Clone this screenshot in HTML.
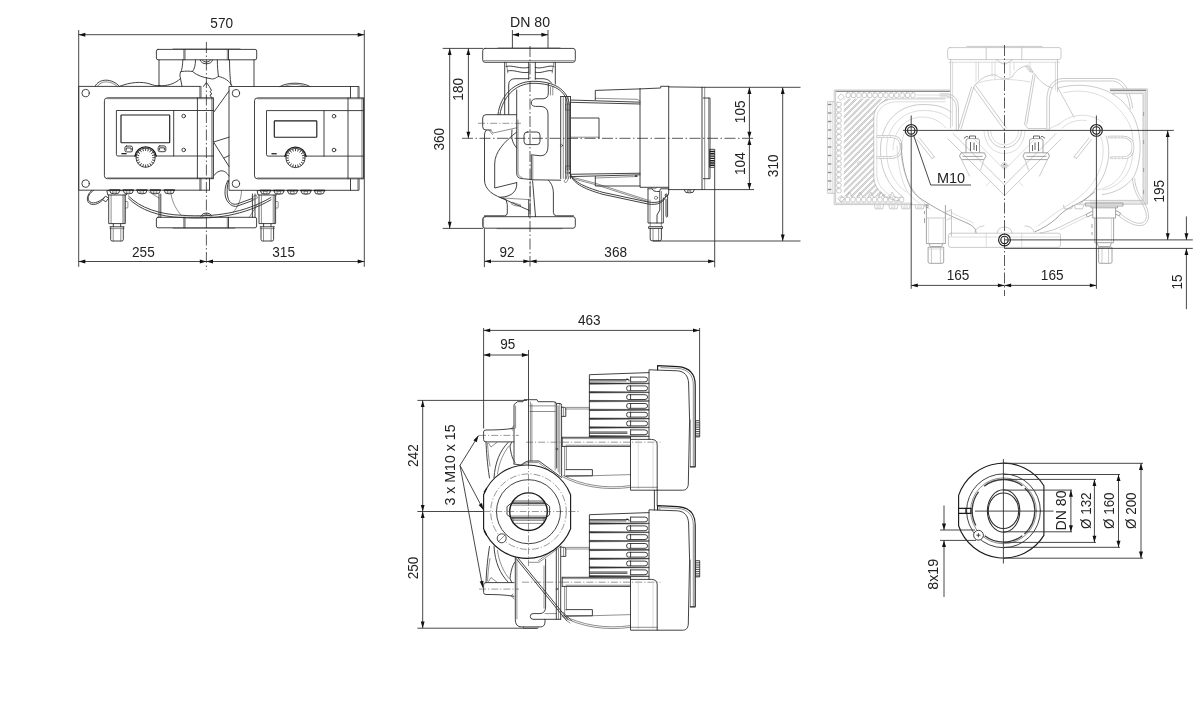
<!DOCTYPE html>
<html><head><meta charset="utf-8"><title>Dimensional drawing</title>
<style>
html,body{margin:0;padding:0;background:#fff;}
body{width:1200px;height:715px;overflow:hidden;font-family:"Liberation Sans",sans-serif;}
svg{display:block;will-change:transform;opacity:.999}
.o{fill:none;stroke:#2e2e2e;stroke-width:.9;stroke-linecap:round;stroke-linejoin:round}
.ow{fill:#fff;stroke:#2e2e2e;stroke-width:.9;stroke-linejoin:round}
.k{fill:none;stroke:#1a1a1a;stroke-width:1.4;stroke-linecap:round;stroke-linejoin:round}
.kw{fill:#fff;stroke:#1a1a1a;stroke-width:1.4}
.n{fill:none;stroke:#333;stroke-width:.55;stroke-linecap:round;stroke-linejoin:round}
.d{fill:none;stroke:#333;stroke-width:.9}
.c{fill:none;stroke:#222;stroke-width:.75;stroke-dasharray:11 2.5 1.5 2.5}
.cs{fill:none;stroke:#444;stroke-width:.55;stroke-dasharray:7 2 1.2 2}
.a{fill:#111;stroke:none}
.t{font-family:"Liberation Sans",sans-serif;font-size:14.6px;fill:#222}
.g{fill:none;stroke:#b4b4b4;stroke-width:.7;stroke-linecap:round;stroke-linejoin:round}
.g2{fill:none;stroke:#cfcfcf;stroke-width:.7;stroke-linecap:round;stroke-linejoin:round}
.gd{fill:none;stroke:#9a9a9a;stroke-width:.9}
.b{fill:#222;stroke:none}
.gv{fill:none;stroke:#8c8c8c;stroke-width:.8;stroke-linejoin:round}
.gv2{fill:none;stroke:#555;stroke-width:.9}
.k3{fill:none;stroke:#444;stroke-width:1.3}
.gk{fill:none;stroke:#8a8a8a;stroke-width:1.3}
.gh{fill:none;stroke:#c4c4c4;stroke-width:2.6;stroke-linecap:round}
.gt{fill:none;stroke:#fff;stroke-width:1.2;stroke-linecap:round}
.k2{fill:none;stroke:#3a3a3a;stroke-width:1.3}
.m{fill:none;stroke:#1c1c1c;stroke-width:1.15;stroke-linecap:round;stroke-linejoin:round}
.mw{fill:#fff;stroke:#1c1c1c;stroke-width:1.15;stroke-linejoin:round}
</style></head><body>
<svg width="1200" height="715" viewBox="0 0 1200 715">
<rect x="0" y="0" width="1200" height="715" fill="#fff"/>
<g id="v1">
<path class="o" d="M158,49.4 H255 Q256.7,49.4 256.7,51 V58 Q256.7,59.8 255,59.8 H158 Q156.4,59.8 156.4,58 V51 Q156.4,49.4 158,49.4 Z"/>
<line class="n" x1="173" y1="48.9" x2="240" y2="48.9"/>
<line class="o" x1="184" y1="49.4" x2="184" y2="59.8"/>
<line class="n" x1="185.2" y1="49.4" x2="185.2" y2="59.8"/>
<line class="o" x1="228.5" y1="49.4" x2="228.5" y2="59.8"/>
<line class="n" x1="227.3" y1="49.4" x2="227.3" y2="59.8"/>
<line class="o" x1="159" y1="59.8" x2="159" y2="86.4"/>
<line class="o" x1="254" y1="59.8" x2="254" y2="86.4"/>
<path class="o" d="M182.8,59.8 C182.6,66 182,70 180.5,72.5"/>
<path class="o" d="M229.5,59.8 C229.6,70 230,78 231,85"/>
<path class="o" d="M195.5,60 C195.5,65 194.5,69 192.5,71.5"/>
<path class="o" d="M217.3,60 C217.4,66 217.8,72 218.5,76.5"/>
<path class="o" d="M200.2,60 Q201,63.6 206.4,63.8 Q211.8,63.6 212.6,60"/>
<path class="o" d="M202.3,60 Q203,62 206.4,62.1 Q209.8,62 210.5,60"/>
<path class="o" d="M159,85.5 C166,86.5 175,84 180.5,78.5 C179.5,75 180,73 181,71.5 C186,71 190,71 192.5,71.5 C197,75.5 203,77.5 210,78.5 C214,80 216,77.5 218.5,76.5 C224,77.5 230,81 232,86"/>
<path class="o" d="M180.5,78.5 C181,81 181.5,84 182,86.4"/>
<path class="o" d="M229,91 L213.5,112.5"/>
<path class="o" d="M213.5,142 L229,137.2"/>
<path class="o" d="M213.5,142 L229,166.5"/>
<path class="o" d="M224,158 L229,155.6"/>
<path class="o" d="M213.5,176 C218,170 224,168 229,176"/>
<path class="n" d="M241.5,190.5 C241.5,199 238,207 233,212.6"/>
<line class="o" x1="252.4" y1="194" x2="252.4" y2="217.3"/>
<line class="o" x1="255" y1="194" x2="255" y2="217.3"/>
<path class="o" d="M203.5,86.4 L206.4,82.5 L209.3,86.4 L211.5,90.5 L210,91.5 L211.8,94 L210,95 L211.5,97.5"/>
<line class="o" x1="200" y1="86.4" x2="200" y2="97.7"/>
<line class="n" x1="201.2" y1="86.4" x2="201.2" y2="97.7"/>
<line class="o" x1="200" y1="178.4" x2="200" y2="190"/>
<line class="o" x1="209.5" y1="178.4" x2="209.5" y2="190"/>
<line class="n" x1="201.2" y1="178.4" x2="201.2" y2="190"/>
<path class="o" d="M158,217.3 H255 Q256.6,217.3 256.6,219 V226 Q256.6,227.8 255,227.8 H158 Q156.4,227.8 156.4,226 V219 Q156.4,217.3 158,217.3 Z"/>
<line class="n" x1="173" y1="228.3" x2="235" y2="228.3"/>
<line class="o" x1="184" y1="217.3" x2="184" y2="227.8"/>
<line class="n" x1="185.2" y1="217.3" x2="185.2" y2="227.8"/>
<line class="o" x1="228.5" y1="217.3" x2="228.5" y2="227.8"/>
<line class="n" x1="227.3" y1="217.3" x2="227.3" y2="227.8"/>
<path class="o" d="M200.8,216.3 A6,5.2 0 0 1 212,216.3"/>
<path class="n" d="M202.5,216.6 A4.2,3.4 0 0 1 210.3,216.6"/>
<line class="o" x1="159" y1="194" x2="159" y2="217.3"/>
<line class="o" x1="160.8" y1="194" x2="160.8" y2="217.3"/>
<path class="n" d="M149,192 L159,198"/>
<path class="o" d="M128.5,196 C140,208 160,214.5 182,215.3 C215,217.5 244,213 271,197.5"/>
<path class="o" d="M128.5,198.3 C140,210.3 160,216.8 182,217.60000000000002 C215,219.8 244,215.3 271,199.8"/>
<path class="n" d="M171,194 C172.5,203 176,209 181,215"/>
<path class="n" d="M249.5,217 L257,205"/>
<path class="o" d="M228.6,180.4 C227,186 226.5,193 228,198 C229.5,203.0 233,205 237,204 L253,198.2"/>
<path class="o" d="M227.94,180.4 C224.8,186 224.3,193 225.8,198 C228.18,204.1 233,207.2 237,206.2 L253,200.39999999999998"/>
<path class="n" d="M252.6,196.6 L256.4,195.2 L257.4,198 L253.6,199.6 Z"/>
<path class="o" d="M104.5,197.3 C99,202.6 91.5,205 88.8,200.6 C86.8,197 90.0,192.6 93.6,190.4"/>
<path class="o" d="M104.5,198.25 C99,204.5 91.5,206.9 88.03999999999999,201.73999999999998 C85.85,197 89.43,192.6 91.69999999999999,190.4"/>
<path class="ow" d="M102.6,199.6 L105.6,196.2 L108.7,198.2 L105.8,201.8 Z"/>
<path class="o" d="M95,86.4 C99,78 112,78 119.5,86.4"/>
<path class="n" d="M97.3,86.4 C101,80.3 111,80.3 117.3,86.4"/>
<path class="o" d="M119.5,86.4 C130,82 142,81.3 150,84 C153,85 156,86.3 159,85.5"/>
<path class="o" d="M280,86.5 C288,82 302,82 310,86.5"/>
<path class="n" d="M284,86.5 C291,83.8 299,83.8 306,86.5"/>
<path class="o" d="M108.7,195 V223.6 H125.30000000000001 V195"/>
<line class="n" x1="111.10000000000001" y1="195" x2="111.10000000000001" y2="223.6"/>
<line class="n" x1="122.9" y1="195" x2="122.9" y2="223.6"/>
<line class="n" x1="124.10000000000001" y1="195" x2="124.10000000000001" y2="223.6"/>
<path class="o" d="M107.2,190.6 H128.3 L126.30000000000001,195 H108.2 Z"/>
<path class="n" d="M125.30000000000001,201.5 H127.10000000000001 Q127.9,201.5 127.9,202.5 V207 Q127.9,208 127.10000000000001,208 H125.30000000000001"/>
<path class="o" d="M113.3,223.6 V226.8 M120.70000000000002,223.6 V226.8"/>
<path class="o" d="M109.9,226.8 H124.10000000000001"/>
<path class="o" d="M110.7,227 V239.5 Q110.7,241 112.2,241 H121.80000000000001 Q123.30000000000001,241 123.30000000000001,239.5 V227"/>
<line class="n" x1="109.9" y1="228.6" x2="124.10000000000001" y2="228.6"/>
<line class="n" x1="113.2" y1="229" x2="113.2" y2="241"/>
<line class="n" x1="120.80000000000001" y1="229" x2="120.80000000000001" y2="241"/>
<path class="o" d="M259,195 V223.6 H275.6 V195"/>
<line class="n" x1="261.4" y1="195" x2="261.4" y2="223.6"/>
<line class="n" x1="273.20000000000005" y1="195" x2="273.20000000000005" y2="223.6"/>
<line class="n" x1="274.40000000000003" y1="195" x2="274.40000000000003" y2="223.6"/>
<path class="o" d="M257.5,190.6 H278.6 L276.6,195 H258.5 Z"/>
<path class="n" d="M275.6,201.5 H277.40000000000003 Q278.20000000000005,201.5 278.20000000000005,202.5 V207 Q278.20000000000005,208 277.40000000000003,208 H275.6"/>
<path class="o" d="M263.6,223.6 V226.8 M271.0,223.6 V226.8"/>
<path class="o" d="M260.2,226.8 H274.40000000000003"/>
<path class="o" d="M261,227 V239.5 Q261,241 262.5,241 H272.1 Q273.6,241 273.6,239.5 V227"/>
<line class="n" x1="260.2" y1="228.6" x2="274.40000000000003" y2="228.6"/>
<line class="n" x1="263.5" y1="229" x2="263.5" y2="241"/>
<line class="n" x1="271.1" y1="229" x2="271.1" y2="241"/>
<path class="ow" d="M109.5,190 L110.9,193.2 Q114.7,194.6 118.5,193.2 L119.9,190 Z"/>
<rect class="n" x="113.10000000000001" y="190.8" width="3.2" height="2.2"/>
<line class="k" x1="109.5" y1="190.1" x2="119.9" y2="190.1"/>
<path class="ow" d="M123.10000000000001,190 L124.50000000000001,193.2 Q128.3,194.6 132.10000000000002,193.2 L133.5,190 Z"/>
<rect class="n" x="126.70000000000002" y="190.8" width="3.2" height="2.2"/>
<line class="k" x1="123.10000000000001" y1="190.1" x2="133.5" y2="190.1"/>
<path class="ow" d="M136.8,190 L138.2,193.2 Q142,194.6 145.8,193.2 L147.2,190 Z"/>
<rect class="n" x="140.4" y="190.8" width="3.2" height="2.2"/>
<line class="k" x1="136.8" y1="190.1" x2="147.2" y2="190.1"/>
<path class="ow" d="M150.10000000000002,190 L151.5,193.2 Q155.3,194.6 159.10000000000002,193.2 L160.5,190 Z"/>
<rect class="n" x="153.70000000000002" y="190.8" width="3.2" height="2.2"/>
<line class="k" x1="150.10000000000002" y1="190.1" x2="160.5" y2="190.1"/>
<path class="ow" d="M164.10000000000002,190 L165.5,193.2 Q169.3,194.6 173.10000000000002,193.2 L174.5,190 Z"/>
<rect class="n" x="167.70000000000002" y="190.8" width="3.2" height="2.2"/>
<line class="k" x1="164.10000000000002" y1="190.1" x2="174.5" y2="190.1"/>
<path class="ow" d="M260.3,190.4 L261.7,193.6 Q265.5,195.0 269.3,193.6 L270.7,190.4 Z"/>
<rect class="n" x="263.9" y="191.20000000000002" width="3.2" height="2.2"/>
<line class="k" x1="260.3" y1="190.5" x2="270.7" y2="190.5"/>
<path class="ow" d="M273.8,190.4 L275.2,193.6 Q279,195.0 282.8,193.6 L284.2,190.4 Z"/>
<rect class="n" x="277.4" y="191.20000000000002" width="3.2" height="2.2"/>
<line class="k" x1="273.8" y1="190.5" x2="284.2" y2="190.5"/>
<path class="ow" d="M287.3,190.4 L288.7,193.6 Q292.5,195.0 296.3,193.6 L297.7,190.4 Z"/>
<rect class="n" x="290.9" y="191.20000000000002" width="3.2" height="2.2"/>
<line class="k" x1="287.3" y1="190.5" x2="297.7" y2="190.5"/>
<path class="ow" d="M300.8,190.4 L302.2,193.6 Q306,195.0 309.8,193.6 L311.2,190.4 Z"/>
<rect class="n" x="304.4" y="191.20000000000002" width="3.2" height="2.2"/>
<line class="k" x1="300.8" y1="190.5" x2="311.2" y2="190.5"/>
<path class="ow" d="M314.3,190.4 L315.7,193.6 Q319.5,195.0 323.3,193.6 L324.7,190.4 Z"/>
<rect class="n" x="317.9" y="191.20000000000002" width="3.2" height="2.2"/>
<line class="k" x1="314.3" y1="190.5" x2="324.7" y2="190.5"/>
<path class="o" d="M200.0,86.4 H78.7 V190.2 H209.5"/>
<circle class="o" cx="85.60000000000001" cy="93.10000000000001" r="3.7"/>
<circle class="o" cx="85.60000000000001" cy="183.6" r="3.7"/>
<path class="o" d="M213.3,97.80000000000001 H107.4 Q104.4,97.80000000000001 104.4,100.80000000000001 V175.7 Q104.4,178.7 107.4,178.7 H213.3"/>
<line class="n" x1="107.4" y1="98.70000000000002" x2="213.3" y2="98.70000000000002"/>
<line class="n" x1="107.4" y1="177.79999999999998" x2="213.3" y2="177.79999999999998"/>
<line class="k3" x1="213.3" y1="97.80000000000001" x2="213.3" y2="178.7"/>
<line class="n" x1="211.70000000000002" y1="97.80000000000001" x2="211.70000000000002" y2="178.7"/>
<line class="o" x1="197.4" y1="97.80000000000001" x2="197.4" y2="178.7"/>
<path class="o" d="M213.3,110.5 H116.4 V154.5 Q116.4,156.0 117.9,156.0 H213.3"/>
<line class="o" x1="173.7" y1="110.5" x2="173.7" y2="156.0"/>
<rect class="m" x="121" y="115" width="48.69999999999999" height="27.69999999999999" rx="0.6"/>
<circle class="o" cx="183.7" cy="116.10000000000001" r="1.8"/>
<circle class="o" cx="183.7" cy="149.9" r="1.8"/>
<rect class="b" x="121.4" y="153.0" width="5.2" height="1.3"/>
<rect class="o" x="124.89999999999999" y="146.1" width="7.6" height="5.8" rx="1.6"/>
<path class="o" d="M126.29999999999998,150.2 V148 H131.1 V150.2"/>
<rect class="o" x="158.2" y="145.9" width="7.6" height="5.8" rx="1.6"/>
<path class="o" d="M159.6,150.0 V147.8 H164.4 V150.0"/>
<circle class="ow" cx="145.6" cy="157.7" r="9.6"/>
<path class="k" d="M135.0,156.1 A10.7,10.7 0 0 1 156.2,156.1"/>
<path class="o" d="M152.80,157.70 L154.80,157.70"/>
<path class="o" d="M152.45,159.92 L154.35,160.54"/>
<path class="o" d="M151.42,161.93 L153.04,163.11"/>
<path class="o" d="M149.83,163.52 L151.01,165.14"/>
<path class="o" d="M147.82,164.55 L148.44,166.45"/>
<path class="o" d="M145.60,164.90 L145.60,166.90"/>
<path class="o" d="M143.38,164.55 L142.76,166.45"/>
<path class="o" d="M141.37,163.52 L140.19,165.14"/>
<path class="o" d="M139.78,161.93 L138.16,163.11"/>
<path class="o" d="M138.75,159.92 L136.85,160.54"/>
<path class="o" d="M138.40,157.70 L136.40,157.70"/>
<path class="o" d="M138.75,155.48 L136.85,154.86"/>
<path class="o" d="M139.78,153.47 L138.16,152.29"/>
<path class="o" d="M141.37,151.88 L140.19,150.26"/>
<path class="o" d="M143.38,150.85 L142.76,148.95"/>
<path class="o" d="M145.60,150.50 L145.60,148.50"/>
<path class="o" d="M147.82,150.85 L148.44,148.95"/>
<path class="o" d="M149.83,151.88 L151.01,150.26"/>
<path class="o" d="M151.42,153.47 L153.04,152.29"/>
<path class="o" d="M152.45,155.48 L154.35,154.86"/>
<path class="o" d="M359,97.8 V86.5 H229 V190.3 H359 V179.0"/>
<line class="o" x1="350.5" y1="86.5" x2="350.5" y2="97.8"/>
<line class="o" x1="350.5" y1="179.0" x2="350.5" y2="190.3"/>
<line class="n" x1="357.8" y1="87.5" x2="357.8" y2="97.8"/>
<line class="n" x1="357.8" y1="179.0" x2="357.8" y2="189.3"/>
<circle class="o" cx="235.9" cy="93.2" r="3.7"/>
<circle class="o" cx="235.9" cy="183.70000000000002" r="3.7"/>
<path class="o" d="M363.5,97.9 H257.5 Q254.5,97.9 254.5,100.9 V175.8 Q254.5,178.8 257.5,178.8 H363.5"/>
<line class="n" x1="257.5" y1="98.80000000000001" x2="363.5" y2="98.80000000000001"/>
<line class="n" x1="257.5" y1="177.9" x2="363.5" y2="177.9"/>
<line class="k3" x1="363.5" y1="97.9" x2="363.5" y2="178.8"/>
<line class="n" x1="361.9" y1="97.9" x2="361.9" y2="178.8"/>
<line class="o" x1="348" y1="97.9" x2="348" y2="178.8"/>
<path class="o" d="M363.5,110.6 H266.5 V154.6 Q266.5,156.1 268.0,156.1 H363.5"/>
<line class="o" x1="324" y1="110.6" x2="324" y2="156.1"/>
<rect class="m" x="274.3" y="120.8" width="42.5" height="16.39999999999999" rx="0.6"/>
<circle class="o" cx="334" cy="116.2" r="1.8"/>
<circle class="o" cx="334" cy="150.0" r="1.8"/>
<rect class="b" x="271.5" y="153.1" width="5.2" height="1.3"/>
<circle class="ow" cx="295.5" cy="158" r="9.6"/>
<path class="k" d="M284.9,156.4 A10.7,10.7 0 0 1 306.1,156.4"/>
<path class="o" d="M302.70,158.00 L304.70,158.00"/>
<path class="o" d="M302.35,160.22 L304.25,160.84"/>
<path class="o" d="M301.32,162.23 L302.94,163.41"/>
<path class="o" d="M299.73,163.82 L300.91,165.44"/>
<path class="o" d="M297.72,164.85 L298.34,166.75"/>
<path class="o" d="M295.50,165.20 L295.50,167.20"/>
<path class="o" d="M293.28,164.85 L292.66,166.75"/>
<path class="o" d="M291.27,163.82 L290.09,165.44"/>
<path class="o" d="M289.68,162.23 L288.06,163.41"/>
<path class="o" d="M288.65,160.22 L286.75,160.84"/>
<path class="o" d="M288.30,158.00 L286.30,158.00"/>
<path class="o" d="M288.65,155.78 L286.75,155.16"/>
<path class="o" d="M289.68,153.77 L288.06,152.59"/>
<path class="o" d="M291.27,152.18 L290.09,150.56"/>
<path class="o" d="M293.28,151.15 L292.66,149.25"/>
<path class="o" d="M295.50,150.80 L295.50,148.80"/>
<path class="o" d="M297.72,151.15 L298.34,149.25"/>
<path class="o" d="M299.73,152.18 L300.91,150.56"/>
<path class="o" d="M301.32,153.77 L302.94,152.59"/>
<path class="o" d="M302.35,155.78 L304.25,155.16"/>
<line class="d" x1="78.7" y1="30" x2="78.7" y2="266.8"/>
<line class="d" x1="364.3" y1="30" x2="364.3" y2="266.8"/>
<line class="d" x1="78.7" y1="34.7" x2="364.3" y2="34.7"/>
<polygon class="a" points="78.7,34.7 85.3,32.8 85.3,36.7"/>
<polygon class="a" points="364.3,34.7 357.7,32.8 357.7,36.7"/>
<text class="t" x="221.7" y="28.4" text-anchor="middle" textLength="22.7" lengthAdjust="spacingAndGlyphs">570</text>
<line class="c" x1="206.4" y1="42" x2="206.4" y2="270"/>
<line class="d" x1="78.7" y1="261.5" x2="206.4" y2="261.5"/>
<polygon class="a" points="78.7,261.5 85.3,259.6 85.3,263.4"/>
<polygon class="a" points="206.4,261.5 199.8,259.6 199.8,263.4"/>
<line class="d" x1="206.4" y1="261.5" x2="364.3" y2="261.5"/>
<polygon class="a" points="206.4,261.5 213.0,259.6 213.0,263.4"/>
<polygon class="a" points="364.3,261.5 357.7,259.6 357.7,263.4"/>
<text class="t" x="143.4" y="256.9" text-anchor="middle" textLength="22.7" lengthAdjust="spacingAndGlyphs">255</text>
<text class="t" x="283.6" y="256.9" text-anchor="middle" textLength="22.7" lengthAdjust="spacingAndGlyphs">315</text>
</g>
<g id="v2">
<path class="o" d="M485,48.4 H573 Q575.3,48.4 575.3,50.8 V59.8 Q575.3,62.3 573,62.3 H485 Q482.7,62.3 482.7,59.8 V50.8 Q482.7,48.4 485,48.4 Z"/>
<line class="n" x1="484" y1="60.6" x2="574" y2="60.6"/>
<line class="n" x1="498" y1="47.9" x2="560" y2="47.9"/>
<path class="o" d="M485,216.7 H573 Q575.3,216.7 575.3,219 V225.8 Q575.3,228.2 573,228.2 H485 Q482.7,228.2 482.7,225.8 V219 Q482.7,216.7 485,216.7 Z"/>
<line class="n" x1="497" y1="228.7" x2="562" y2="228.7"/>
<line class="n" x1="483.6" y1="218" x2="483.6" y2="227"/>
<path class="o" d="M504.7,62.3 V114.5"/>
<path class="n" d="M506.3,62.3 C506.3,66 507.8,69 507.8,73"/>
<path class="o" d="M555.3,62.3 V84"/>
<path class="n" d="M553.7,62.3 C553.7,66 552.2,69 552.2,73"/>
<path class="o" d="M506,66.5 C512,64.5 520,69.5 528.7,67.5"/>
<path class="o" d="M535.3,67.5 C542,69.5 549,64.5 554,66.5"/>
<path class="o" d="M507.5,71 C514,69 521,74 528.7,72.3"/>
<path class="o" d="M535.3,72.3 C542,74 548,69 552.5,71"/>
<line class="o" x1="528.7" y1="62.3" x2="528.7" y2="79.3"/>
<line class="o" x1="535.3" y1="62.3" x2="535.3" y2="79.3"/>
<path class="o" d="M508.7,114.5 V85 Q508.7,79 515,78.7 H528.7"/>
<path class="o" d="M535.3,78.7 H543 Q549,79 551.5,83"/>
<path class="o" d="M516.7,90 V173 Q516.7,178.5 522,178.6 L532,179.6"/>
<path class="n" d="M518,120 V172 Q518,177 522,177.3"/>
<path class="o" d="M532,179.8 L560.7,180.2"/>
<path class="o" d="M548.3,83.5 V93 Q548.3,98.5 543,98.8 H535.5 Q531.3,99.5 531.3,103 Q531.3,106.2 535.5,106.4 H541 Q548,107 548,114 V146 Q548,155.5 541,155.8 L531.3,154.8 V179"/>
<path class="n" d="M532.8,156 V179"/>
<line class="n" x1="550.5" y1="87" x2="550.5" y2="95"/>
<line class="n" x1="552.8" y1="87" x2="552.8" y2="95"/>
<rect class="o" x="524" y="132" width="16" height="12.6" rx="3.2"/>
<line class="o" x1="560.7" y1="96.5" x2="560.7" y2="178.5"/>
<line class="n" x1="563.3" y1="96.5" x2="563.3" y2="178.5"/>
<line class="o" x1="565.8" y1="96.5" x2="565.8" y2="178.5"/>
<line class="n" x1="568.2" y1="96.5" x2="568.2" y2="178.5"/>
<line class="o" x1="570.5" y1="96.5" x2="570.5" y2="178.5"/>
<line class="o" x1="560.7" y1="96.5" x2="570.5" y2="96.5"/>
<circle class="n" cx="561.5" cy="145.5" r="1.1"/>
<path class="n" d="M566,104 H570.5 V110 H566 Z"/>
<path class="n" d="M566,166 H570.5 V173 H566 Z"/>
<path class="o" d="M498,114.6 C500,96 514.0,81.3 533,81.3 C549,81.3 566.0,86 569.3,103.5 V170"/>
<path class="o" d="M500.0,114.6 C502.0,98.0 515.0,83.3 533,83.3 C549,83.3 565.4,88.0 567.3,103.5 V170"/>
<path class="n" d="M567.5,170 C568,176 566,179 564.5,180.5 C563.5,182 565.5,183.5 567,181.5 L569.5,176"/>
<path class="o" d="M516.7,114.7 H486 Q482.7,114.7 482.7,118 V126.8 Q482.7,130 486,130 H491"/>
<line class="cs" x1="478" y1="123.3" x2="521" y2="123.3"/>
<path class="o" d="M486.5,130 C485,131.5 484.5,133 484.5,136 V180 C484.5,190 494,196 506,199.5 L507.3,204.5 V213 Q507.3,215.6 504.5,215.8 H484.5"/>
<path class="n" d="M491,130.5 L493,133 L516.7,127.8"/>
<path class="n" d="M489,130 L492.5,134.5"/>
<path class="o" d="M516.7,132 C504,142 494.7,152 494.7,164 V188 L516.7,182.6"/>
<path class="o" d="M512,130 C511.3,137 511.5,142 516.7,148"/>
<path class="o" d="M516.7,182.6 C517.5,190 513,197 500,197.3"/>
<path class="o" d="M500,197.3 L529.3,210.5"/>
<path class="n" d="M503,198 L528.7,199.6"/>
<path class="n" d="M511,203.5 C514,206.5 519,206.5 521,205.2 L512.5,202.3"/>
<path class="o" d="M528.7,199.6 V216.7"/>
<path class="n" d="M530.2,181 V216.7"/>
<path class="o" d="M532.6,181 L535.5,216.7"/>
<path class="o" d="M548.5,180.4 C552,184 553.4,188 553.4,194 V212.5 Q553.4,215.6 556.7,215.8 H573.5"/>
<path class="o" d="M570.5,100 L640,102.2"/>
<path class="o" d="M570.5,102.3 L640,104"/>
<path class="o" d="M595.3,99.8 V90.4 L640,88.9"/>
<path class="n" d="M595.3,98.3 L637,99.3 L640,101"/>
<path class="o" d="M570.5,174.3 L640,173.2"/>
<path class="o" d="M570.5,176.6 L640,174.8"/>
<path class="o" d="M595.3,176.5 V186 H640"/>
<path class="n" d="M595.3,178 L637,176.5"/>
<rect class="b" x="635" y="175.3" width="2.4" height="1.4"/>
<path class="o" d="M571.3,118 H599 V138.3"/>
<line class="n" x1="571.3" y1="137.2" x2="599" y2="137.2"/>
<path class="o" d="M640,88.9 V187.3 H668.7"/>
<path class="o" d="M640,88.9 L660.7,88 V86.3 H668.7"/>
<line class="o" x1="668.7" y1="86.3" x2="668.7" y2="189.6"/>
<path class="o" d="M668.7,86.9 L702,87.3"/>
<line class="o" x1="702" y1="87.3" x2="702" y2="189.6"/>
<line class="o" x1="668.7" y1="189.6" x2="702" y2="189.6"/>
<line class="n" x1="704.7" y1="87.3" x2="704.7" y2="189.6"/>
<path class="o" d="M703.4,98 H710 V178.7 H703.4"/>
<line class="n" x1="708.6" y1="98" x2="708.6" y2="178.7"/>
<rect class="o" x="710" y="149.3" width="4.7" height="18"/>
<line class="k" x1="710.6" y1="151.5" x2="714.1" y2="151.5"/>
<line class="k" x1="710.6" y1="153.8" x2="714.1" y2="153.8"/>
<line class="k" x1="710.6" y1="156.1" x2="714.1" y2="156.1"/>
<line class="k" x1="710.6" y1="158.4" x2="714.1" y2="158.4"/>
<line class="k" x1="710.6" y1="160.7" x2="714.1" y2="160.7"/>
<line class="k" x1="710.6" y1="163" x2="714.1" y2="163"/>
<line class="k" x1="710.6" y1="165.3" x2="714.1" y2="165.3"/>
<path class="o" d="M684.3,189.8 L685.6,192.3 Q689.3,193.5 693,192.3 L694.3,189.8"/>
<rect class="n" x="687.8" y="190.3" width="3" height="1.6"/>
<path class="n" d="M651,187.5 Q654,190.5 657,187.5"/>
<path class="o" d="M648,188.8 V223 H663.3 V198"/>
<line class="n" x1="650" y1="200" x2="650" y2="223"/>
<path class="o" d="M648,188.8 H652 Q653,191.5 656.5,191.5 H659.5 L660.5,188.8 H668.7 V193 Q668.7,195.5 666.5,196.5"/>
<circle class="n" cx="656" cy="197.8" r="1.6"/>
<path class="o" d="M659.8,191.5 V210 L657,215 V223"/>
<path class="n" d="M661.5,191.5 V223"/>
<path class="o" d="M664.8,194.8 Q666.3,192.6 667.6,194.8 V216.5 Q666.8,218 666,216.5 V199.5"/>
<path class="n" d="M650.2,223 V226.6 M661.3,223 V226.6"/>
<path class="o" d="M649,226.7 H662.5 V228.4 H649 Z"/>
<path class="o" d="M650.2,228.4 V239 Q650.2,240.8 652,240.8 H659.6 Q661.4,240.8 661.4,239 V228.4"/>
<line class="n" x1="653" y1="229" x2="653" y2="240.8"/>
<line class="n" x1="658.6" y1="229" x2="658.6" y2="240.8"/>
<path class="o" d="M569.3,172.0 C571.5,181 583,186.6 603,192.4 L648,202 C658,203.6 664.5,201.0 666.2,195.0"/>
<path class="o" d="M570.0999999999999,172.4 C571.5,183.0 583,188.6 603,194.4 L648,204.0 C658,205.6 664.5,202.2 666.2,195.6"/>
<path class="n" d="M572.5,177.2 L595.3,183.2 L648,200.2"/>
<path class="n" d="M572.5,178.6 L595.3,184.6 L648,201.6"/>
<line class="d" x1="442.7" y1="48.4" x2="483" y2="48.4"/>
<line class="d" x1="442.7" y1="228.4" x2="483" y2="228.4"/>
<line class="d" x1="449.7" y1="48.4" x2="449.7" y2="228.4"/>
<polygon class="a" points="449.7,48.4 447.8,55.0 451.6,55.0"/>
<polygon class="a" points="449.7,228.4 447.8,221.8 451.6,221.8"/>
<line class="d" x1="468.4" y1="48.4" x2="468.4" y2="138.3"/>
<polygon class="a" points="468.4,48.4 466.4,55.0 470.3,55.0"/>
<polygon class="a" points="468.4,138.3 466.4,131.7 470.3,131.7"/>
<text class="t" transform="translate(443.8,139.2) rotate(-90)" text-anchor="middle" textLength="22.7" lengthAdjust="spacingAndGlyphs">360</text>
<text class="t" transform="translate(462.7,89.3) rotate(-90)" text-anchor="middle" textLength="22.7" lengthAdjust="spacingAndGlyphs">180</text>
<line class="c" x1="462" y1="138.3" x2="754" y2="138.3"/>
<line class="d" x1="512.4" y1="30" x2="512.4" y2="48"/>
<line class="d" x1="548" y1="30" x2="548" y2="48"/>
<line class="d" x1="512.4" y1="34.7" x2="548" y2="34.7"/>
<polygon class="a" points="512.4,34.7 519.0,32.8 519.0,36.7"/>
<polygon class="a" points="548.0,34.7 541.4,32.8 541.4,36.7"/>
<text class="t" x="530.0" y="27.4" text-anchor="middle" textLength="40.0" lengthAdjust="spacingAndGlyphs">DN 80</text>
<line class="c" x1="530" y1="46" x2="530" y2="266.5"/>
<line class="d" x1="484.4" y1="228.4" x2="484.4" y2="267.2"/>
<line class="d" x1="714.7" y1="167.3" x2="714.7" y2="267.4"/>
<line class="d" x1="484.4" y1="261.3" x2="530" y2="261.3"/>
<polygon class="a" points="484.4,261.3 491.0,259.4 491.0,263.2"/>
<polygon class="a" points="530.0,261.3 523.4,259.4 523.4,263.2"/>
<line class="d" x1="530" y1="261.3" x2="714.7" y2="261.3"/>
<polygon class="a" points="530.0,261.3 536.6,259.4 536.6,263.2"/>
<polygon class="a" points="714.7,261.3 708.1,259.4 708.1,263.2"/>
<text class="t" x="507.0" y="256.8" text-anchor="middle" textLength="15.0" lengthAdjust="spacingAndGlyphs">92</text>
<text class="t" x="615.7" y="257.2" text-anchor="middle" textLength="22.7" lengthAdjust="spacingAndGlyphs">368</text>
<line class="d" x1="702" y1="87.3" x2="800.5" y2="87.3"/>
<line class="d" x1="702" y1="189.6" x2="754" y2="189.6"/>
<line class="d" x1="653" y1="241" x2="800.5" y2="241"/>
<line class="d" x1="749.4" y1="87.3" x2="749.4" y2="138.4"/>
<polygon class="a" points="749.4,87.3 747.4,93.9 751.4,93.9"/>
<polygon class="a" points="749.4,138.4 747.4,131.8 751.4,131.8"/>
<line class="d" x1="749.4" y1="138.4" x2="749.4" y2="189.6"/>
<polygon class="a" points="749.4,138.4 747.4,145.0 751.4,145.0"/>
<polygon class="a" points="749.4,189.6 747.4,183.0 751.4,183.0"/>
<line class="d" x1="782.7" y1="87.3" x2="782.7" y2="241"/>
<polygon class="a" points="782.7,87.3 780.8,93.9 784.7,93.9"/>
<polygon class="a" points="782.7,241.0 780.8,234.4 784.7,234.4"/>
<text class="t" transform="translate(744.8,111.8) rotate(-90)" text-anchor="middle" textLength="22.7" lengthAdjust="spacingAndGlyphs">105</text>
<text class="t" transform="translate(744.8,163.6) rotate(-90)" text-anchor="middle" textLength="22.7" lengthAdjust="spacingAndGlyphs">104</text>
<text class="t" transform="translate(777.5,165.8) rotate(-90)" text-anchor="middle" textLength="22.7" lengthAdjust="spacingAndGlyphs">310</text>
</g>
<g id="v3">
<defs><clipPath id="hc"><path d="M843.8,98.5 H895 C882,100 874.5,107 874,118 V178 C875,190 885,197 897,196.5 H843.8 Z"/></clipPath></defs>
<g clip-path="url(#hc)">
<line x1="720.75" y1="197" x2="819.25" y2="98.5" stroke="#e3e3e3" stroke-width="1.5"/>
<line class="g" x1="719.8" y1="197" x2="818.3" y2="98.5"/>
<line class="g" x1="721.7" y1="197" x2="820.2" y2="98.5"/>
<line x1="726.95" y1="197" x2="825.45" y2="98.5" stroke="#e3e3e3" stroke-width="1.5"/>
<line class="g" x1="726.0" y1="197" x2="824.5" y2="98.5"/>
<line class="g" x1="727.9" y1="197" x2="826.4" y2="98.5"/>
<line x1="733.15" y1="197" x2="831.65" y2="98.5" stroke="#e3e3e3" stroke-width="1.5"/>
<line class="g" x1="732.2" y1="197" x2="830.7" y2="98.5"/>
<line class="g" x1="734.1" y1="197" x2="832.6" y2="98.5"/>
<line x1="739.35" y1="197" x2="837.85" y2="98.5" stroke="#e3e3e3" stroke-width="1.5"/>
<line class="g" x1="738.4" y1="197" x2="836.9" y2="98.5"/>
<line class="g" x1="740.3" y1="197" x2="838.8" y2="98.5"/>
<line x1="745.55" y1="197" x2="844.05" y2="98.5" stroke="#e3e3e3" stroke-width="1.5"/>
<line class="g" x1="744.6" y1="197" x2="843.1" y2="98.5"/>
<line class="g" x1="746.5" y1="197" x2="845.0" y2="98.5"/>
<line x1="751.75" y1="197" x2="850.25" y2="98.5" stroke="#e3e3e3" stroke-width="1.5"/>
<line class="g" x1="750.8" y1="197" x2="849.3" y2="98.5"/>
<line class="g" x1="752.7" y1="197" x2="851.2" y2="98.5"/>
<line x1="757.95" y1="197" x2="856.45" y2="98.5" stroke="#e3e3e3" stroke-width="1.5"/>
<line class="g" x1="757.0" y1="197" x2="855.5" y2="98.5"/>
<line class="g" x1="758.9" y1="197" x2="857.4" y2="98.5"/>
<line x1="764.15" y1="197" x2="862.65" y2="98.5" stroke="#e3e3e3" stroke-width="1.5"/>
<line class="g" x1="763.2" y1="197" x2="861.7" y2="98.5"/>
<line class="g" x1="765.1" y1="197" x2="863.6" y2="98.5"/>
<line x1="770.35" y1="197" x2="868.85" y2="98.5" stroke="#e3e3e3" stroke-width="1.5"/>
<line class="g" x1="769.4" y1="197" x2="867.9" y2="98.5"/>
<line class="g" x1="771.3" y1="197" x2="869.8" y2="98.5"/>
<line x1="776.55" y1="197" x2="875.05" y2="98.5" stroke="#e3e3e3" stroke-width="1.5"/>
<line class="g" x1="775.6" y1="197" x2="874.1" y2="98.5"/>
<line class="g" x1="777.5" y1="197" x2="876.0" y2="98.5"/>
<line x1="782.75" y1="197" x2="881.25" y2="98.5" stroke="#e3e3e3" stroke-width="1.5"/>
<line class="g" x1="781.8" y1="197" x2="880.3" y2="98.5"/>
<line class="g" x1="783.7" y1="197" x2="882.2" y2="98.5"/>
<line x1="788.95" y1="197" x2="887.45" y2="98.5" stroke="#e3e3e3" stroke-width="1.5"/>
<line class="g" x1="788.0" y1="197" x2="886.5" y2="98.5"/>
<line class="g" x1="789.9" y1="197" x2="888.4" y2="98.5"/>
<line x1="795.15" y1="197" x2="893.65" y2="98.5" stroke="#e3e3e3" stroke-width="1.5"/>
<line class="g" x1="794.2" y1="197" x2="892.7" y2="98.5"/>
<line class="g" x1="796.1" y1="197" x2="894.6" y2="98.5"/>
<line x1="801.35" y1="197" x2="899.85" y2="98.5" stroke="#e3e3e3" stroke-width="1.5"/>
<line class="g" x1="800.4" y1="197" x2="898.9" y2="98.5"/>
<line class="g" x1="802.3" y1="197" x2="900.8" y2="98.5"/>
<line x1="807.55" y1="197" x2="906.05" y2="98.5" stroke="#e3e3e3" stroke-width="1.5"/>
<line class="g" x1="806.6" y1="197" x2="905.1" y2="98.5"/>
<line class="g" x1="808.5" y1="197" x2="907.0" y2="98.5"/>
<line x1="813.75" y1="197" x2="912.25" y2="98.5" stroke="#e3e3e3" stroke-width="1.5"/>
<line class="g" x1="812.8" y1="197" x2="911.3" y2="98.5"/>
<line class="g" x1="814.7" y1="197" x2="913.2" y2="98.5"/>
<line x1="819.95" y1="197" x2="918.45" y2="98.5" stroke="#e3e3e3" stroke-width="1.5"/>
<line class="g" x1="819.0" y1="197" x2="917.5" y2="98.5"/>
<line class="g" x1="820.9" y1="197" x2="919.4" y2="98.5"/>
<line x1="826.15" y1="197" x2="924.65" y2="98.5" stroke="#e3e3e3" stroke-width="1.5"/>
<line class="g" x1="825.2" y1="197" x2="923.7" y2="98.5"/>
<line class="g" x1="827.1" y1="197" x2="925.6" y2="98.5"/>
<line x1="832.35" y1="197" x2="930.85" y2="98.5" stroke="#e3e3e3" stroke-width="1.5"/>
<line class="g" x1="831.4" y1="197" x2="929.9" y2="98.5"/>
<line class="g" x1="833.3" y1="197" x2="931.8" y2="98.5"/>
<line x1="838.55" y1="197" x2="937.05" y2="98.5" stroke="#e3e3e3" stroke-width="1.5"/>
<line class="g" x1="837.6" y1="197" x2="936.1" y2="98.5"/>
<line class="g" x1="839.5" y1="197" x2="938.0" y2="98.5"/>
<line x1="844.75" y1="197" x2="943.25" y2="98.5" stroke="#e3e3e3" stroke-width="1.5"/>
<line class="g" x1="843.8" y1="197" x2="942.3" y2="98.5"/>
<line class="g" x1="845.7" y1="197" x2="944.2" y2="98.5"/>
<line x1="850.95" y1="197" x2="949.45" y2="98.5" stroke="#e3e3e3" stroke-width="1.5"/>
<line class="g" x1="850.0" y1="197" x2="948.5" y2="98.5"/>
<line class="g" x1="851.9" y1="197" x2="950.4" y2="98.5"/>
<line x1="857.15" y1="197" x2="955.65" y2="98.5" stroke="#e3e3e3" stroke-width="1.5"/>
<line class="g" x1="856.2" y1="197" x2="954.7" y2="98.5"/>
<line class="g" x1="858.1" y1="197" x2="956.6" y2="98.5"/>
<line x1="863.35" y1="197" x2="961.85" y2="98.5" stroke="#e3e3e3" stroke-width="1.5"/>
<line class="g" x1="862.4" y1="197" x2="960.9" y2="98.5"/>
<line class="g" x1="864.3" y1="197" x2="962.8" y2="98.5"/>
<line x1="869.55" y1="197" x2="968.05" y2="98.5" stroke="#e3e3e3" stroke-width="1.5"/>
<line class="g" x1="868.6" y1="197" x2="967.1" y2="98.5"/>
<line class="g" x1="870.5" y1="197" x2="969.0" y2="98.5"/>
<line x1="875.75" y1="197" x2="974.25" y2="98.5" stroke="#e3e3e3" stroke-width="1.5"/>
<line class="g" x1="874.8" y1="197" x2="973.3" y2="98.5"/>
<line class="g" x1="876.7" y1="197" x2="975.2" y2="98.5"/>
<line x1="881.95" y1="197" x2="980.45" y2="98.5" stroke="#e3e3e3" stroke-width="1.5"/>
<line class="g" x1="881.0" y1="197" x2="979.5" y2="98.5"/>
<line class="g" x1="882.9" y1="197" x2="981.4" y2="98.5"/>
<line x1="888.15" y1="197" x2="986.65" y2="98.5" stroke="#e3e3e3" stroke-width="1.5"/>
<line class="g" x1="887.2" y1="197" x2="985.7" y2="98.5"/>
<line class="g" x1="889.1" y1="197" x2="987.6" y2="98.5"/>
<line x1="894.35" y1="197" x2="992.85" y2="98.5" stroke="#e3e3e3" stroke-width="1.5"/>
<line class="g" x1="893.4" y1="197" x2="991.9" y2="98.5"/>
<line class="g" x1="895.3" y1="197" x2="993.8" y2="98.5"/>
<line x1="900.55" y1="197" x2="999.05" y2="98.5" stroke="#e3e3e3" stroke-width="1.5"/>
<line class="g" x1="899.6" y1="197" x2="998.1" y2="98.5"/>
<line class="g" x1="901.5" y1="197" x2="1000.0" y2="98.5"/>
<line x1="906.75" y1="197" x2="1005.25" y2="98.5" stroke="#e3e3e3" stroke-width="1.5"/>
<line class="g" x1="905.8" y1="197" x2="1004.3" y2="98.5"/>
<line class="g" x1="907.7" y1="197" x2="1006.2" y2="98.5"/>
<line x1="912.95" y1="197" x2="1011.45" y2="98.5" stroke="#e3e3e3" stroke-width="1.5"/>
<line class="g" x1="912.0" y1="197" x2="1010.5" y2="98.5"/>
<line class="g" x1="913.9" y1="197" x2="1012.4" y2="98.5"/>
</g>
<path class="g" d="M950,90 H834.2 V204.6 H929"/>
<path class="gk" d="M950,91.4 H835.6"/>
<path class="g" d="M835.6,91.4 V203.2 H912"/>
<path class="g2" d="M917,97.8 H950"/>
<path class="g2" d="M917,95 H950"/>
<rect class="g" x="846.0" y="92.8" width="4.3" height="4.8" rx="1.5"/>
<rect class="g" x="851.4" y="92.8" width="4.3" height="4.8" rx="1.5"/>
<rect class="g" x="856.8" y="92.8" width="4.3" height="4.8" rx="1.5"/>
<rect class="g" x="862.2" y="92.8" width="4.3" height="4.8" rx="1.5"/>
<rect class="g" x="867.6" y="92.8" width="4.3" height="4.8" rx="1.5"/>
<rect class="g" x="873.0" y="92.8" width="4.3" height="4.8" rx="1.5"/>
<rect class="g" x="878.4" y="92.8" width="4.3" height="4.8" rx="1.5"/>
<rect class="g" x="883.8" y="92.8" width="4.3" height="4.8" rx="1.5"/>
<rect class="g" x="889.2" y="92.8" width="4.3" height="4.8" rx="1.5"/>
<rect class="g" x="894.6" y="92.8" width="4.3" height="4.8" rx="1.5"/>
<rect class="g" x="900.0" y="92.8" width="4.3" height="4.8" rx="1.5"/>
<rect class="g" x="905.4" y="92.8" width="4.3" height="4.8" rx="1.5"/>
<rect class="g" x="910.8" y="92.8" width="4.3" height="4.8" rx="1.5"/>
<rect class="g" x="836.6" y="102.2" width="4.6" height="4.3" rx="1.5"/>
<rect class="g" x="836.6" y="107.60000000000001" width="4.6" height="4.3" rx="1.5"/>
<rect class="g" x="836.6" y="113.0" width="4.6" height="4.3" rx="1.5"/>
<rect class="g" x="836.6" y="118.4" width="4.6" height="4.3" rx="1.5"/>
<rect class="g" x="836.6" y="123.80000000000001" width="4.6" height="4.3" rx="1.5"/>
<rect class="g" x="836.6" y="129.2" width="4.6" height="4.3" rx="1.5"/>
<rect class="g" x="836.6" y="134.60000000000002" width="4.6" height="4.3" rx="1.5"/>
<rect class="g" x="836.6" y="140.0" width="4.6" height="4.3" rx="1.5"/>
<rect class="g" x="836.6" y="145.4" width="4.6" height="4.3" rx="1.5"/>
<rect class="g" x="836.6" y="150.8" width="4.6" height="4.3" rx="1.5"/>
<rect class="g" x="836.6" y="156.2" width="4.6" height="4.3" rx="1.5"/>
<rect class="g" x="836.6" y="161.60000000000002" width="4.6" height="4.3" rx="1.5"/>
<rect class="g" x="836.6" y="167.0" width="4.6" height="4.3" rx="1.5"/>
<rect class="g" x="836.6" y="172.4" width="4.6" height="4.3" rx="1.5"/>
<rect class="g" x="836.6" y="177.8" width="4.6" height="4.3" rx="1.5"/>
<rect class="g" x="836.6" y="183.2" width="4.6" height="4.3" rx="1.5"/>
<rect class="g" x="836.6" y="188.60000000000002" width="4.6" height="4.3" rx="1.5"/>
<rect class="g" x="840.0" y="197.2" width="4.3" height="4.8" rx="1.5"/>
<rect class="g" x="845.4" y="197.2" width="4.3" height="4.8" rx="1.5"/>
<rect class="g" x="850.8" y="197.2" width="4.3" height="4.8" rx="1.5"/>
<rect class="g" x="856.2" y="197.2" width="4.3" height="4.8" rx="1.5"/>
<rect class="g" x="861.6" y="197.2" width="4.3" height="4.8" rx="1.5"/>
<rect class="g" x="867.0" y="197.2" width="4.3" height="4.8" rx="1.5"/>
<rect class="g" x="872.4" y="197.2" width="4.3" height="4.8" rx="1.5"/>
<rect class="g" x="877.8" y="197.2" width="4.3" height="4.8" rx="1.5"/>
<rect class="g" x="883.2" y="197.2" width="4.3" height="4.8" rx="1.5"/>
<rect class="g" x="888.6" y="197.2" width="4.3" height="4.8" rx="1.5"/>
<rect class="g" x="894.0" y="197.2" width="4.3" height="4.8" rx="1.5"/>
<rect class="g" x="899.4" y="197.2" width="4.3" height="4.8" rx="1.5"/>
<path class="g" d="M838,97 l3.2,-3.2 l3.2,3.2 l-3.2,3.2 Z"/>
<path class="g" d="M838,198.5 l3.2,-3.2 l3.2,3.2 l-3.2,3.2 Z"/>
<path class="g" d="M846.8,196.5 l2.5,-4.5 l2.5,4.5"/>
<path class="g" d="M857.5,196.5 l2.5,-4.5 l2.5,4.5"/>
<path class="g" d="M868.1999999999999,196.5 l2.5,-4.5 l2.5,4.5"/>
<path class="g" d="M878.9,196.5 l2.5,-4.5 l2.5,4.5"/>
<path class="g" d="M889.5999999999999,196.5 l2.5,-4.5 l2.5,4.5"/>
<circle class="g2" cx="859" cy="130.5" r="1.6"/>
<circle class="g2" cx="859" cy="163" r="1.6"/>
<path class="g" d="M834.2,101.7 H827.6 V193.3 H834.2"/>
<line class="g2" x1="830.2" y1="101.7" x2="830.2" y2="193.3"/>
<line class="g2" x1="832.3" y1="101.7" x2="832.3" y2="193.3"/>
<line class="gk" x1="827.9" y1="104.5" x2="831.4" y2="104.5"/>
<line class="gk" x1="827.9" y1="113" x2="831.4" y2="113"/>
<line class="gk" x1="827.9" y1="121.5" x2="831.4" y2="121.5"/>
<line class="gk" x1="827.9" y1="130" x2="831.4" y2="130"/>
<line class="gk" x1="827.9" y1="138.5" x2="831.4" y2="138.5"/>
<line class="gk" x1="827.9" y1="147" x2="831.4" y2="147"/>
<line class="gk" x1="827.9" y1="155.5" x2="831.4" y2="155.5"/>
<line class="gk" x1="827.9" y1="164" x2="831.4" y2="164"/>
<line class="gk" x1="827.9" y1="172.5" x2="831.4" y2="172.5"/>
<line class="gk" x1="827.9" y1="181" x2="831.4" y2="181"/>
<line class="gk" x1="827.9" y1="189.5" x2="831.4" y2="189.5"/>
<path class="g" d="M950,47.6 H1059 Q1061,47.6 1061,49.6 V57.6 Q1061,59.6 1059,59.6 H950 Q947.7,59.6 947.7,57.6 V49.6 Q947.7,47.6 950,47.6 Z"/>
<path class="g" d="M967,46.4 H1042"/>
<path class="g2" d="M949,62.3 H1059.5"/>
<line class="g" x1="986.2" y1="47.6" x2="986.2" y2="59.6"/>
<line class="g" x1="1021.8" y1="47.6" x2="1021.8" y2="59.6"/>
<path class="g" d="M996,59.8 Q998,60 999.5,62 Q1004.3,66 1009,62 Q1010.5,60 1012.5,59.8"/>
<line class="g" x1="950.6" y1="59.6" x2="950.6" y2="128"/>
<line class="g2" x1="952.6" y1="62" x2="952.6" y2="126"/>
<line class="g" x1="1057.5" y1="59.6" x2="1057.5" y2="92"/>
<line class="g2" x1="1055.4" y1="62" x2="1055.4" y2="90"/>
<line class="g2" x1="976" y1="62" x2="976" y2="82"/>
<line class="g2" x1="978.5" y1="62" x2="978.5" y2="80"/>
<line class="g2" x1="992" y1="62" x2="992" y2="76"/>
<line class="g2" x1="995" y1="62" x2="995" y2="79"/>
<line class="g2" x1="1010" y1="62" x2="1010" y2="76"/>
<line class="g2" x1="1014" y1="62" x2="1014" y2="70"/>
<line class="g2" x1="1030" y1="62" x2="1030" y2="72"/>
<path class="g" d="M973.6,87.6 C980,77 990,74 996,75 C1000,79 1007,80 1012,77 C1016,70 1022,66 1027,66 C1030,70 1033,73 1035,74 C1040,82 1046,86 1052,88"/>
<path class="g" d="M973.6,87.6 L1004.3,130 M976,86 L1006.5,128"/>
<path class="g" d="M973.6,87.6 L961,129 M971.5,87 L958.8,128"/>
<path class="g2" d="M974,85 C985,78 1010,78 1030,82"/>
<path class="g" d="M1033,74.5 L1024.6,124 M1035,75.5 L1026.8,124 M1024.6,124 L1028,128.5 H1046"/>
<path class="g" d="M1026,66 Q1029,73 1033,72 Q1031,67 1027.5,65"/>
<path class="g" d="M940,93.8 H948 Q958.5,96 958.5,108 V130 M940,96 H947 Q956.3,98 956.3,108 V130"/>
<path class="g" d="M945,98.9 H893.6 C881,99.5 874,107 873.8,117.8 V178.2 C875,191 886,200 899.3,200.8"/>
<path class="g2" d="M945,101.8 H896 C884,102.5 877,109 876.8,119 V176 C878,188 888,197 901,197.8"/>
<path class="g" d="M951,112 C944,106.5 935,104.5 922,104.5 C897,105 880.5,124 880.5,150 C880.5,170 888,186 903,197"/>
<path class="g2" d="M951,120 C944,113 935,110.5 923,110.5 C901,111 886.5,128 886.5,150 C886.5,168 893,182 906,192"/>
<path class="g2" d="M946,128 C940,121 932,117 922,117 C905,117.5 893,131 893,150"/>
<path class="g2" d="M905,131 C897,150 900,180 925,204"/>
<path class="gh" d="M877.6,136.6 H892 Q901.2,137 901.2,147 Q901.2,157 892,157.4 H877.6"/>
<path class="gt" d="M877.6,136.6 H892 Q901.2,137 901.2,147 Q901.2,157 892,157.4 H877.6"/>
<line class="g2" x1="880" y1="135.4" x2="880" y2="137.8"/>
<line class="g2" x1="880" y1="156.2" x2="880" y2="158.6"/>
<line class="g2" x1="883.5" y1="135.4" x2="883.5" y2="137.8"/>
<line class="g2" x1="883.5" y1="156.2" x2="883.5" y2="158.6"/>
<line class="g2" x1="887" y1="135.4" x2="887" y2="137.8"/>
<line class="g2" x1="887" y1="156.2" x2="887" y2="158.6"/>
<line class="g2" x1="890.5" y1="135.4" x2="890.5" y2="137.8"/>
<line class="g2" x1="890.5" y1="156.2" x2="890.5" y2="158.6"/>
<path class="gd" d="M901,143 C901.5,160 905,176 910.2,187 C914,194 918,197 923.6,200.6 C932,206 940,210.5 947,214 C956,218.5 964,221.5 969,224 C973,226 975,228 975.7,230.8 L976.2,233.5"/>
<path class="g2" d="M897,146 C897.5,163 901,180 907,191 C912,199 920,204 930,209"/>
<path class="g2" d="M950,212 C960,217 968,220 973,223"/>
<path class="g" d="M919.5,138 L934.5,157 M917,139.6 L932,158.5 M934.5,157 L932,158.5"/>
<path class="g" d="M948,139 L1004.6,195.5 L1061,139"/>
<path class="g" d="M953,133.5 L1004.6,185 L1056,133.5"/>
<path class="g2" d="M975,140 L1004.6,170 L1034,140"/>
<path class="g2" d="M990.5,181.5 L986,186 M1018.5,181.5 L1023,186"/>
<path class="g" d="M987.8,131 A16.8,16.8 0 0 0 1021.4,131"/>
<path class="g2" d="M990.6,131 A14,14 0 0 0 1018.6,131"/>
<path class="g2" d="M984,131 C985,145 993,153 1004.6,153.5 C1016,153 1024,145 1025,131"/>
<circle class="g" cx="1004.4" cy="165.3" r="2.8"/>
<circle class="gd" cx="1004.4" cy="165.3" r="1.2"/>
<line class="g2" x1="1000.5" y1="165.3" x2="1008.5" y2="165.3"/>
<path class="gv" d="M959.5,156 L961.0,152.8 H984.5 L986.0,156.2 L984.0,159.6 H961.5 Z"/>
<path class="gv" d="M962.5,156.4 H982.5"/>
<path class="gv" d="M966.0,152.8 V141 Q966.0,138.6 968.5,138.6 H977.1 Q979.5,138.6 979.5,141 V152.8"/>
<path class="gv2" d="M969.5,138.6 V136 H975.5 V138.6"/>
<path class="gv2" d="M963.9,138.4 l3,-2.2 l1.5,1.2 M974.0,142.5 v7.5 M976.5,145 v6 M970.5,142 v9"/>
<path class="g" d="M961.5,159.6 L969.5,176 M984.0,159.6 L980.5,170"/>
<path class="gv" d="M1049.5,156 L1048.0,152.8 H1024.5 L1023.0,156.2 L1025.0,159.6 H1047.5 Z"/>
<path class="gv" d="M1046.5,156.4 H1026.5"/>
<path class="gv" d="M1043.0,152.8 V141 Q1043.0,138.6 1040.5,138.6 H1031.9 Q1029.5,138.6 1029.5,141 V152.8"/>
<path class="gv2" d="M1039.5,138.6 V136 H1033.5 V138.6"/>
<path class="gv2" d="M1045.1,138.4 l-3,-2.2 l-1.5,1.2 M1035.0,142.5 v7.5 M1032.5,145 v6 M1038.5,142 v9"/>
<path class="g" d="M1047.5,159.6 L1039.5,176 M1025.0,159.6 L1028.5,170"/>
<path class="g" d="M1046.8,130 V100 C1047.2,86 1053,79 1063,78.5 H1113 C1124,79 1130,90 1132.6,108"/>
<path class="g" d="M1049.4,130 V100.5 C1049.8,88 1054.6,81.3 1063.5,81 H1112.6 C1122,81.5 1127.8,92 1130.4,109"/>
<path class="g" d="M1058,88 C1084,81 1109,88 1123,102 C1133,112 1139,125 1140,142 C1141,158 1137,170 1134.4,175.7 C1128,186 1116,193 1102.3,194.6"/>
<path class="g2" d="M1063.6,92.7 C1085,88 1104,94 1115.5,105.9 C1125,115 1131,124 1132.5,135 C1134,148 1133,160 1129,170 C1124,181 1114,188 1103,190"/>
<path class="g" d="M1058,88 L1074,117.2"/>
<path class="g2" d="M1058.9,124.8 C1066,117 1076,115 1083.4,115.3 C1090,115.5 1098,118 1103,123"/>
<path class="g2" d="M1062,128 C1070,121 1079,119.5 1086,120.5"/>
<path class="g2" d="M1046.8,130 L1060,123.5"/>
<path class="g" d="M1106,136 C1112,152 1108,172 1096.6,187 C1092,194 1086,199 1079.7,204"/>
<path class="g2" d="M1101,137 C1106,152 1102,170 1092,184 C1086,192 1078,199 1068,205"/>
<path class="g2" d="M1128,158 C1124,176 1114,187 1097,190"/>
<path class="g" d="M1074,156.9 L1089,138 M1076.4,158.5 L1091.4,139.6"/>
<path class="g" d="M1074,156.9 L1076.4,158.5"/>
<path class="gd" d="M1094.8,191.8 C1088,198 1080,203 1070,207.5 C1064,211 1060,214 1057,218 C1050,224 1042,229 1034.4,232"/>
<path class="g2" d="M1068,205 C1056,212 1046,220 1038,226"/>
<path class="gh" d="M1109,137 H1123 Q1133,137.5 1133,147.4 Q1133,157.4 1123,157.8 H1111"/>
<path class="gt" d="M1109,137 H1123 Q1133,137.5 1133,147.4 Q1133,157.4 1123,157.8 H1111"/>
<line class="g2" x1="1112" y1="135.8" x2="1112" y2="138.2"/>
<line class="g2" x1="1112" y1="156.6" x2="1112" y2="159"/>
<line class="g2" x1="1115.5" y1="135.8" x2="1115.5" y2="138.2"/>
<line class="g2" x1="1115.5" y1="156.6" x2="1115.5" y2="159"/>
<line class="g2" x1="1119" y1="135.8" x2="1119" y2="138.2"/>
<line class="g2" x1="1119" y1="156.6" x2="1119" y2="159"/>
<line class="g2" x1="1122.5" y1="135.8" x2="1122.5" y2="138.2"/>
<line class="g2" x1="1122.5" y1="156.6" x2="1122.5" y2="159"/>
<path d="M1110,88.9 H1147.3 V204.2 H1090 V200.4 H1143 V93.6 H1110 Z" fill="#e9e9e9" stroke="none"/>
<path class="g" d="M1110,88.9 H1147.3 V204.2 H1076"/>
<path class="gk" d="M1110,90.4 H1146"/>
<path class="g" d="M1112,93.6 H1143 V200.4 H1084"/>
<path class="g2" d="M1145.4,92 V203"/>
<line class="gd" x1="1143.6" y1="112" x2="1143.6" y2="116"/>
<line class="gd" x1="1143.6" y1="140" x2="1143.6" y2="144"/>
<line class="gd" x1="1143.6" y1="168" x2="1143.6" y2="172"/>
<line class="gd" x1="1143.6" y1="190" x2="1143.6" y2="194"/>
<path class="g" d="M951,233.2 H1058 Q1060.5,233.2 1060.5,235.5 V245 Q1060.5,247.4 1058,247.4 H951 Q948.4,247.4 948.4,245 V235.5 Q948.4,233.2 951,233.2 Z"/>
<line class="g2" x1="986.2" y1="233.2" x2="986.2" y2="247.4"/>
<line class="g2" x1="1021.8" y1="233.2" x2="1021.8" y2="247.4"/>
<line class="g2" x1="949" y1="237" x2="1060" y2="237"/>
<path class="g" d="M975,232 C976,228 980,226 984,226 M1034,232 C1033,228 1029,226 1025,226"/>
<path class="g" d="M997,233 A7.5,6 0 0 1 1012,233"/>
<path class="g" d="M874.5,205.2 l0.8,3.6 h7.4 l0.8,-3.6"/>
<rect class="g2" x="877.4" y="205.8" width="3.2" height="2"/>
<path class="g" d="M888.9,205.2 l0.8,3.6 h7.4 l0.8,-3.6"/>
<rect class="g2" x="891.8" y="205.8" width="3.2" height="2"/>
<path class="g" d="M901.2,205.2 l0.8,3.6 h7.4 l0.8,-3.6"/>
<rect class="g2" x="904.1" y="205.8" width="3.2" height="2"/>
<path class="g" d="M915.2,205.2 l0.8,3.6 h7.4 l0.8,-3.6"/>
<rect class="g2" x="918.1" y="205.8" width="3.2" height="2"/>
<path class="g" d="M1063.5,205.2 l0.8,3.6 h7.4 l0.8,-3.6"/>
<path class="g" d="M1074.5,205.2 l0.8,3.6 h7.4 l0.8,-3.6"/>
<path class="gd" d="M926.4,205 V243.6 H945.4 V205"/>
<path class="g" d="M926.4,218 H945.4"/>
<line class="g2" x1="928.6" y1="219" x2="928.6" y2="243"/>
<line class="g2" x1="943.1999999999999" y1="219" x2="943.1999999999999" y2="243"/>
<path class="gd" d="M928.9,243.6 L930.4,246.6 H941.4 L942.9,243.6"/>
<path class="gd" d="M928.1,247.2 H943.6999999999999 V261.8 Q943.6999999999999,263.3 942.1999999999999,263.3 H929.6 Q928.1,263.3 928.1,261.8 Z"/>
<line class="g" x1="931.4" y1="248" x2="931.4" y2="263"/>
<line class="g" x1="940.4" y1="248" x2="940.4" y2="263"/>
<line class="g2" x1="928.1" y1="249" x2="943.6999999999999" y2="249"/>
<path class="gd" d="M924.6,205 h3.4 v2.6 h-2 M924.5,211 v3 M924.5,218 v5"/>
<path class="g" d="M945.4,212.4 L951.5,209.5 V236 M947,220 L951.5,217.6"/>
<path class="gd" d="M1085.3,203 H1123 V206 H1085.3 Z"/>
<path class="gd" d="M1091,206 V207.8 H1117.5 V206"/>
<path class="gd" d="M1092.8,207.8 V218 H1115.6 V207.8"/>
<path class="gd" d="M1094.8,218 V242.7 H1113.6 V218"/>
<line class="g2" x1="1097" y1="219" x2="1097" y2="242"/>
<line class="g2" x1="1111.4" y1="219" x2="1111.4" y2="242"/>
<path class="gd" d="M1097,242.7 L1098.5,246.6 H1110 L1111.5,242.7"/>
<path class="gd" d="M1098.6,247.2 H1112 V261.8 Q1112,263.3 1110.5,263.3 H1100 Q1098.6,263.3 1098.6,261.8 Z"/>
<line class="g" x1="1102" y1="248" x2="1102" y2="263"/>
<line class="g" x1="1108.6" y1="248" x2="1108.6" y2="263"/>
<path class="gd" d="M1092.8,211 L1086,214.4 l1.4,2.6 L1092.8,214.4 M1115.6,210.5 L1120.6,213 l-1.4,2.8 L1115.6,214"/>
<path class="gd" d="M1092,224 v4 M1092,232 v3"/>
<path class="g" d="M1120,213.6 C1128,220 1136,224.5 1142,223 C1147.6,221 1148,214 1142,203 C1137,196 1133.5,190 1132.5,178.5"/>
<path class="g" d="M1119,216 C1127,222.4 1136,227 1143,225.2 C1150,222.6 1150.4,213 1144,202 C1139,195 1135.5,189 1134.6,178.5"/>
<path class="g" d="M1086,214.4 C1076,219 1066,224 1059,227.6 C1052,230.5 1046,232 1040,233"/>
<path class="g2" d="M1086.6,216.8 C1077,221.4 1068,226 1060.5,229.6"/>
<circle class="m" cx="911.2" cy="130.4" r="5.9"/>
<circle class="m" cx="911.2" cy="130.4" r="3.7"/>
<circle class="m" cx="1096.4" cy="130.4" r="5.9"/>
<circle class="m" cx="1096.4" cy="130.4" r="3.7"/>
<circle class="m" cx="1004.5" cy="239.9" r="5.9"/>
<circle class="m" cx="1004.5" cy="239.9" r="3.7"/>
<line class="d" x1="911.2" y1="115.5" x2="911.2" y2="288.8"/>
<line class="d" x1="1096.4" y1="115.5" x2="1096.4" y2="288.8"/>
<line class="d" x1="903" y1="130.4" x2="1173.8" y2="130.4"/>
<line class="c" x1="1004.5" y1="45" x2="1004.5" y2="296"/>
<path class="d" d="M913.5,135 L930.7,185 H971"/>
<text class="t" x="951.0" y="183" text-anchor="middle" textLength="28.2" lengthAdjust="spacingAndGlyphs">M10</text>
<line class="d" x1="1004.5" y1="239.9" x2="1192.8" y2="239.9"/>
<line class="d" x1="1004.5" y1="248.4" x2="1192.8" y2="248.4"/>
<line class="d" x1="1167.7" y1="130.4" x2="1167.7" y2="239.9"/>
<polygon class="a" points="1167.7,130.4 1165.8,137.0 1169.7,137.0"/>
<polygon class="a" points="1167.7,239.9 1165.8,233.3 1169.7,233.3"/>
<text class="t" transform="translate(1164.0,191.2) rotate(-90)" text-anchor="middle" textLength="22.7" lengthAdjust="spacingAndGlyphs">195</text>
<line class="d" x1="1186.4" y1="216.4" x2="1186.4" y2="239.9"/>
<polygon class="a" points="1186.4,239.9 1184.5,233.3 1188.4,233.3"/>
<line class="d" x1="1186.4" y1="248.4" x2="1186.4" y2="309.2"/>
<polygon class="a" points="1186.4,248.4 1184.5,255.0 1188.4,255.0"/>
<text class="t" transform="translate(1182.0,282) rotate(-90)" text-anchor="middle" textLength="15.0" lengthAdjust="spacingAndGlyphs">15</text>
<line class="d" x1="911.2" y1="285.4" x2="1004.5" y2="285.4"/>
<polygon class="a" points="911.2,285.4 917.8,283.4 917.8,287.3"/>
<polygon class="a" points="1004.5,285.4 997.9,283.4 997.9,287.3"/>
<line class="d" x1="1004.5" y1="285.4" x2="1096.4" y2="285.4"/>
<polygon class="a" points="1004.5,285.4 1011.1,283.4 1011.1,287.3"/>
<polygon class="a" points="1096.4,285.4 1089.8,283.4 1089.8,287.3"/>
<text class="t" x="958.0" y="279.5" text-anchor="middle" textLength="22.7" lengthAdjust="spacingAndGlyphs">165</text>
<text class="t" x="1052.2" y="279.5" text-anchor="middle" textLength="22.7" lengthAdjust="spacingAndGlyphs">165</text>
</g>
<g id="v4">
<g>
<path class="o" d="M514,464 V404.6 L517.5,401.7 H523 L524,399.7 H537 L538,401.7 H553.5 Q556.7,401.7 556.7,405 V468"/>
<path class="n" d="M515.6,406 V428"/>
<line class="n" x1="530.4" y1="402" x2="530.4" y2="461"/>
<line class="n" x1="531.9" y1="404" x2="531.9" y2="461"/>
<line class="n" x1="530" y1="405.9" x2="555.2" y2="405.9"/>
<line class="n" x1="530" y1="411.5" x2="555.2" y2="411.5"/>
<line class="n" x1="555.2" y1="402" x2="555.2" y2="470"/>
<line class="n" x1="558.2" y1="406" x2="558.2" y2="472"/>
<path class="o" d="M556.7,403.5 H560 Q561.6,403.5 561.6,405.5 V476"/>
<line class="n" x1="559.8" y1="404" x2="559.8" y2="474"/>
<path class="o" d="M561.6,407.3 H564.3 Q565.8,407.3 565.8,409 V416.4 H561.6"/>
<line class="n" x1="563.6" y1="408" x2="563.6" y2="416"/>
<circle class="n" cx="556.8" cy="449" r="0.9"/>
<path class="o" d="M514,464 L521,465 C524,463 526,461.2 529,461 H539 L561.6,477.5"/>
<path class="n" d="M519.5,466.5 C523,464 526,462.6 529,462.6 H538.5 L559,477.5"/>
</g>
<g>
<path class="o" d="M514,428.2 C505,429.8 495,430 486,430 Q483.6,430 483.6,432 V439.5 Q483.6,441.9 486,441.9 H514"/>
<path class="n" d="M511.5,428.6 L514,425.5 M511.5,428.6 L512.8,430.5"/>
<line class="cs" x1="479" y1="435.4" x2="519" y2="435.4"/>
<path class="o" d="M486,441.9 C486.5,452 487,462 489.5,478"/>
<path class="n" d="M488.5,443 L491,447 L497,442.3"/>
<path class="n" d="M487.5,443.5 C488,450 488.5,458 490,466"/>
<path class="o" d="M508,442.5 C500,451 495,462 494,478"/>
<path class="o" d="M511.5,442.5 L510,446 C511,455 513,460 515,462.5"/>
<path class="n" d="M509,446 C504,452 499,462 497.5,474"/>
</g>
<g transform="translate(0,1024.5) scale(1,-1)">
<path class="o" d="M514,428.2 C505,429.8 495,430 486,430 Q483.6,430 483.6,432 V439.5 Q483.6,441.9 486,441.9 H514"/>
<path class="n" d="M511.5,428.6 L514,425.5 M511.5,428.6 L512.8,430.5"/>
<line class="cs" x1="479" y1="435.4" x2="519" y2="435.4"/>
<path class="o" d="M486,441.9 C486.5,452 487,462 489.5,478"/>
<path class="n" d="M488.5,443 L491,447 L497,442.3"/>
<path class="n" d="M487.5,443.5 C488,450 488.5,458 490,466"/>
<path class="o" d="M508,442.5 C500,451 495,462 494,478"/>
<path class="o" d="M511.5,442.5 L510,446 C511,455 513,460 515,462.5"/>
<path class="n" d="M509,446 C504,452 499,462 497.5,474"/>
</g>
<path class="o" d="M515.3,557.6 V619.3 Q515.3,626.9 521.5,626.9 H540.5 Q545,626.9 545,621.5 V619.3 H533 Q530.3,619.3 530.3,616.4 Q530.3,613.6 533,613.6 H540 Q545.6,613.2 545.6,607 V559.2"/>
<line class="n" x1="544" y1="566" x2="544" y2="608"/>
<line class="n" x1="516.9" y1="560" x2="516.9" y2="619"/>
<line class="n" x1="545" y1="613.6" x2="556.3" y2="613.6"/>
<line class="o" x1="545" y1="619.3" x2="560.7" y2="619.3"/>
<path class="n" d="M523.5,626.9 V628.5 H538 V626.9"/>
<line class="o" x1="556.3" y1="549" x2="556.3" y2="619.3"/>
<line class="n" x1="558.5" y1="549" x2="558.5" y2="619.3"/>
<line class="o" x1="560.7" y1="546.5" x2="560.7" y2="619.3"/>
<path class="o" d="M561.6,547.3 H564.3 Q565.8,547.3 565.8,549 V556.4 H561.6"/>
<line class="n" x1="563.6" y1="548" x2="563.6" y2="556"/>
<circle class="n" cx="556.9" cy="589" r="0.9"/>
<path class="n" d="M529,562.3 H539 L561.6,546 M538.5,560.7 L559,546"/>
<g transform="translate(0,0)">
<path class="n" d="M565.8,407.4 H589.4"/>
<path class="n" d="M565.8,409 H589.4"/>
<path class="o" d="M589.4,436.6 V374.7 L649,372.6"/>
<path class="o" d="M630.6,377.1 H645 Q647.6,377.1 647.6,379.5 Q647.6,381.9 645,381.9 H630.6"/>
<line class="o" x1="630.6" y1="377.09999999999997" x2="630.6" y2="381.9"/>
<path d="M589.4,382.75 L649,383.15 V383.75 L589.4,384.25 Z" fill="#3a3a3a" stroke="#222" stroke-width=".45"/>
<path class="o" d="M630.6,385.9 H645 Q647.6,385.9 647.6,388.3 Q647.6,390.7 645,390.7 H630.6"/>
<path class="o" d="M630.6,385.9 H628.4 Q626.6,385.9 626.6,388.3 Q626.6,390.7 628.4,390.7 H630.6 V385.9"/>
<path d="M589.4,391.55 L649,391.95 V392.55 L589.4,393.05 Z" fill="#3a3a3a" stroke="#222" stroke-width=".45"/>
<path class="o" d="M630.6,394.7 H645 Q647.6,394.7 647.6,397.1 Q647.6,399.5 645,399.5 H630.6"/>
<path class="o" d="M630.6,394.7 H628.4 Q626.6,394.7 626.6,397.1 Q626.6,399.5 628.4,399.5 H630.6 V394.7"/>
<path d="M589.4,400.35 L649,400.75 V401.35 L589.4,401.85 Z" fill="#3a3a3a" stroke="#222" stroke-width=".45"/>
<path class="o" d="M630.6,403.5 H645 Q647.6,403.5 647.6,405.9 Q647.6,408.3 645,408.3 H630.6"/>
<path class="o" d="M630.6,403.5 H628.4 Q626.6,403.5 626.6,405.9 Q626.6,408.3 628.4,408.3 H630.6 V403.5"/>
<path d="M589.4,409.15 L649,409.55 V410.15 L589.4,410.65 Z" fill="#3a3a3a" stroke="#222" stroke-width=".45"/>
<path class="o" d="M630.6,412.3 H645 Q647.6,412.3 647.6,414.7 Q647.6,417.1 645,417.1 H630.6"/>
<path class="o" d="M630.6,412.3 H628.4 Q626.6,412.3 626.6,414.7 Q626.6,417.1 628.4,417.1 H630.6 V412.3"/>
<path d="M589.4,417.95 L649,418.35 V418.95 L589.4,419.45 Z" fill="#3a3a3a" stroke="#222" stroke-width=".45"/>
<path class="o" d="M630.6,421.1 H645 Q647.6,421.1 647.6,423.5 Q647.6,425.9 645,425.9 H630.6"/>
<path class="o" d="M630.6,421.1 H628.4 Q626.6,421.1 626.6,423.5 Q626.6,425.9 628.4,425.9 H630.6 V421.1"/>
<path d="M589.4,426.75 L649,427.15 V427.75 L589.4,428.25 Z" fill="#3a3a3a" stroke="#222" stroke-width=".45"/>
<path class="o" d="M630.6,429.9 H645 Q647.6,429.9 647.6,432.3 Q647.6,434.7 645,434.7 H630.6"/>
<line class="o" x1="630.6" y1="429.9" x2="630.6" y2="434.7"/>
<path d="M589.4,435.55 L649,435.95 V436.55 L589.4,437.05 Z" fill="#3a3a3a" stroke="#222" stroke-width=".45"/>
<path class="o" d="M589.4,379.6 H629 V381 M589.4,380.9 H626"/>
<rect class="b" x="626.3" y="378.6" width="1.6" height="1.4"/>
<path class="o" d="M589.4,432 H627 M589.4,433.3 H627"/>
<path class="o" d="M649,439.4 V369.8 L677.5,370.8 C684.5,371.5 688,375.5 688.6,383 L689.6,420 L688.3,484 C688,488.5 686,490.2 682.5,490.2 H657.2"/>
<path class="m" d="M657.6,369.8 V365.6 L678,366.6 C689,367.5 695.2,374 695.2,385 V466.8 H690.4"/>
<path class="n" d="M661,367.6 L678,368.4 C687.5,369.2 693.3,375 693.3,385 V466"/>
<line class="n" x1="690.4" y1="466.8" x2="690.4" y2="420"/>
<rect class="o" x="696" y="420.7" width="3.7" height="16.2"/>
<line class="o" x1="696.5" y1="422.8" x2="699.2" y2="422.8"/>
<line class="o" x1="696.5" y1="425" x2="699.2" y2="425"/>
<line class="o" x1="696.5" y1="427.2" x2="699.2" y2="427.2"/>
<line class="o" x1="696.5" y1="429.4" x2="699.2" y2="429.4"/>
<line class="o" x1="696.5" y1="431.6" x2="699.2" y2="431.6"/>
<line class="o" x1="696.5" y1="433.8" x2="699.2" y2="433.8"/>
<line class="o" x1="696.5" y1="435.9" x2="699.2" y2="435.9"/>
<path class="o" d="M562.2,437.3 H630.5 M562.2,446.4 H630.5 M562.2,437.3 V446.4"/>
<line class="n" x1="562.2" y1="438.6" x2="630.5" y2="438.6"/>
<line class="n" x1="566" y1="445.2" x2="630.5" y2="445.2"/>
<line class="cs" x1="562" y1="442.2" x2="660.5" y2="442.2"/>
<path class="o" d="M630.5,437 V490.2 H657.2 V445 Q657.2,439.4 651.5,439.4 H630.5"/>
<line class="g2" x1="638.3" y1="440" x2="638.3" y2="489.6"/>
<line class="g2" x1="653" y1="442" x2="653" y2="489.6"/>
<line class="n" x1="630.5" y1="487.3" x2="657.2" y2="487.3"/>
<path class="n" d="M566.4,446.4 V470 M564.6,446.4 V476"/>
<path class="o" d="M566,469.6 H592.4 V475.8 H566"/>
<path class="n" d="M566,476.5 L630.5,474.6"/>
<path class="n" d="M562,476.5 C580,486.5 605,491 630.5,487.3 M563.5,475.6 C581,484.6 605,489.3 630.5,485.6"/>
</g>
<g transform="translate(0,140)">
<path class="n" d="M565.8,407.4 H589.4"/>
<path class="n" d="M565.8,409 H589.4"/>
<path class="o" d="M589.4,436.6 V374.7 L649,372.6"/>
<path class="o" d="M630.6,377.1 H645 Q647.6,377.1 647.6,379.5 Q647.6,381.9 645,381.9 H630.6"/>
<line class="o" x1="630.6" y1="377.09999999999997" x2="630.6" y2="381.9"/>
<path d="M589.4,382.75 L649,383.15 V383.75 L589.4,384.25 Z" fill="#3a3a3a" stroke="#222" stroke-width=".45"/>
<path class="o" d="M630.6,385.9 H645 Q647.6,385.9 647.6,388.3 Q647.6,390.7 645,390.7 H630.6"/>
<path class="o" d="M630.6,385.9 H628.4 Q626.6,385.9 626.6,388.3 Q626.6,390.7 628.4,390.7 H630.6 V385.9"/>
<path d="M589.4,391.55 L649,391.95 V392.55 L589.4,393.05 Z" fill="#3a3a3a" stroke="#222" stroke-width=".45"/>
<path class="o" d="M630.6,394.7 H645 Q647.6,394.7 647.6,397.1 Q647.6,399.5 645,399.5 H630.6"/>
<path class="o" d="M630.6,394.7 H628.4 Q626.6,394.7 626.6,397.1 Q626.6,399.5 628.4,399.5 H630.6 V394.7"/>
<path d="M589.4,400.35 L649,400.75 V401.35 L589.4,401.85 Z" fill="#3a3a3a" stroke="#222" stroke-width=".45"/>
<path class="o" d="M630.6,403.5 H645 Q647.6,403.5 647.6,405.9 Q647.6,408.3 645,408.3 H630.6"/>
<path class="o" d="M630.6,403.5 H628.4 Q626.6,403.5 626.6,405.9 Q626.6,408.3 628.4,408.3 H630.6 V403.5"/>
<path d="M589.4,409.15 L649,409.55 V410.15 L589.4,410.65 Z" fill="#3a3a3a" stroke="#222" stroke-width=".45"/>
<path class="o" d="M630.6,412.3 H645 Q647.6,412.3 647.6,414.7 Q647.6,417.1 645,417.1 H630.6"/>
<path class="o" d="M630.6,412.3 H628.4 Q626.6,412.3 626.6,414.7 Q626.6,417.1 628.4,417.1 H630.6 V412.3"/>
<path d="M589.4,417.95 L649,418.35 V418.95 L589.4,419.45 Z" fill="#3a3a3a" stroke="#222" stroke-width=".45"/>
<path class="o" d="M630.6,421.1 H645 Q647.6,421.1 647.6,423.5 Q647.6,425.9 645,425.9 H630.6"/>
<path class="o" d="M630.6,421.1 H628.4 Q626.6,421.1 626.6,423.5 Q626.6,425.9 628.4,425.9 H630.6 V421.1"/>
<path d="M589.4,426.75 L649,427.15 V427.75 L589.4,428.25 Z" fill="#3a3a3a" stroke="#222" stroke-width=".45"/>
<path class="o" d="M630.6,429.9 H645 Q647.6,429.9 647.6,432.3 Q647.6,434.7 645,434.7 H630.6"/>
<line class="o" x1="630.6" y1="429.9" x2="630.6" y2="434.7"/>
<path d="M589.4,435.55 L649,435.95 V436.55 L589.4,437.05 Z" fill="#3a3a3a" stroke="#222" stroke-width=".45"/>
<path class="o" d="M589.4,379.6 H629 V381 M589.4,380.9 H626"/>
<rect class="b" x="626.3" y="378.6" width="1.6" height="1.4"/>
<path class="o" d="M589.4,432 H627 M589.4,433.3 H627"/>
<path class="o" d="M649,439.4 V369.8 L677.5,370.8 C684.5,371.5 688,375.5 688.6,383 L689.6,420 L688.3,484 C688,488.5 686,490.2 682.5,490.2 H657.2"/>
<path class="m" d="M657.6,369.8 V365.6 L678,366.6 C689,367.5 695.2,374 695.2,385 V466.8 H690.4"/>
<path class="n" d="M661,367.6 L678,368.4 C687.5,369.2 693.3,375 693.3,385 V466"/>
<line class="n" x1="690.4" y1="466.8" x2="690.4" y2="420"/>
<rect class="o" x="696" y="420.7" width="3.7" height="16.2"/>
<line class="o" x1="696.5" y1="422.8" x2="699.2" y2="422.8"/>
<line class="o" x1="696.5" y1="425" x2="699.2" y2="425"/>
<line class="o" x1="696.5" y1="427.2" x2="699.2" y2="427.2"/>
<line class="o" x1="696.5" y1="429.4" x2="699.2" y2="429.4"/>
<line class="o" x1="696.5" y1="431.6" x2="699.2" y2="431.6"/>
<line class="o" x1="696.5" y1="433.8" x2="699.2" y2="433.8"/>
<line class="o" x1="696.5" y1="435.9" x2="699.2" y2="435.9"/>
<path class="o" d="M562.2,437.3 H630.5 M562.2,446.4 H630.5 M562.2,437.3 V446.4"/>
<line class="n" x1="562.2" y1="438.6" x2="630.5" y2="438.6"/>
<line class="n" x1="566" y1="445.2" x2="630.5" y2="445.2"/>
<line class="cs" x1="562" y1="442.2" x2="660.5" y2="442.2"/>
<path class="o" d="M630.5,437 V490.2 H657.2 V445 Q657.2,439.4 651.5,439.4 H630.5"/>
<line class="g2" x1="638.3" y1="440" x2="638.3" y2="489.6"/>
<line class="g2" x1="653" y1="442" x2="653" y2="489.6"/>
<line class="n" x1="630.5" y1="487.3" x2="657.2" y2="487.3"/>
<path class="n" d="M566.4,446.4 V470 M564.6,446.4 V476"/>
<path class="o" d="M566,469.6 H592.4 V475.8 H566"/>
<path class="n" d="M566,476.5 L630.5,474.6"/>
<path class="n" d="M562,476.5 C580,486.5 605,491 630.5,487.3 M563.5,475.6 C581,484.6 605,489.3 630.5,485.6"/>
</g>
<line class="o" x1="654.4" y1="490.2" x2="654.4" y2="510"/>
<line class="o" x1="657.2" y1="490.2" x2="657.2" y2="505.6"/>
<line class="n" x1="659.8" y1="505.6" x2="659.8" y2="510"/>
<line class="cs" x1="526" y1="442.2" x2="562" y2="442.2"/>
<line class="cs" x1="522" y1="582.2" x2="562" y2="582.2"/>
<path class="mw" d="M483.6,494.71 A46.7,46.7 0 0 1 570.6,494.71 V528.69 A46.7,46.7 0 0 1 483.6,528.69 Z"/>
<circle class="cs" cx="528.5" cy="511.7" r="37.8"/>
<circle class="o" cx="528.5" cy="511.7" r="32"/>
<circle class="kw" cx="528.5" cy="511.7" r="18.8"/>
<defs><clipPath id="bc"><circle cx="528.5" cy="511.7" r="18.2"/></clipPath></defs>
<path class="o" d="M507.3,506.4 L510.6,503.6 H546.4 L549.6,506.4 V514.8 L546.4,517.4 H510.6 L507.3,514.8 Z"/>
<g clip-path="url(#bc)">
<line class="n" x1="509" y1="500.8" x2="548" y2="500.8"/>
<line class="o" x1="509" y1="502.2" x2="548" y2="502.2"/>
<line class="n" x1="509" y1="505.2" x2="548" y2="505.2"/>
<line class="n" x1="509" y1="516" x2="548" y2="516"/>
<line class="o" x1="509" y1="518.8" x2="548" y2="518.8"/>
<line class="n" x1="509" y1="520.4" x2="548" y2="520.4"/>
<line class="n" x1="509" y1="523.4" x2="548" y2="523.4"/>
<line class="n" x1="513" y1="495" x2="513" y2="503.6"/>
<line class="n" x1="544" y1="495" x2="544" y2="503.6"/>
<line class="n" x1="513" y1="517.4" x2="513" y2="529"/>
<line class="n" x1="544" y1="517.4" x2="544" y2="529"/>
</g>
<circle class="ow" cx="501.7" cy="538.3" r="4.5"/>
<line class="n" x1="498" y1="542" x2="505.4" y2="534.6"/>
<path class="k" d="M484.3,492 L486.5,488.5 M484.3,531 L486.5,535"/>
<path class="o" d="M515.7,558 L566.5,620.5 M517.6,557.5 L568,619.5"/>
<path class="n" d="M566.5,620.5 L570,623 M563,612 L572,621"/>
<line class="d" x1="528.5" y1="350" x2="528.5" y2="466"/>
<line class="cs" x1="528.5" y1="462" x2="528.5" y2="566"/>
<line class="d" x1="417.4" y1="400.4" x2="527" y2="400.4"/>
<line class="d" x1="417.4" y1="511.5" x2="483" y2="511.5"/>
<line class="cs" x1="483" y1="511.5" x2="580" y2="511.5"/>
<line class="d" x1="417.4" y1="628.2" x2="537" y2="628.2"/>
<line class="d" x1="422.7" y1="400.4" x2="422.7" y2="511.5"/>
<polygon class="a" points="422.7,400.4 420.8,407.0 424.6,407.0"/>
<polygon class="a" points="422.7,511.5 420.8,504.9 424.6,504.9"/>
<line class="d" x1="422.7" y1="511.5" x2="422.7" y2="628.2"/>
<polygon class="a" points="422.7,511.5 420.8,518.1 424.6,518.1"/>
<polygon class="a" points="422.7,628.2 420.8,621.6 424.6,621.6"/>
<text class="t" transform="translate(418.0,455.6) rotate(-90)" text-anchor="middle" textLength="22.7" lengthAdjust="spacingAndGlyphs">242</text>
<text class="t" transform="translate(418.0,568) rotate(-90)" text-anchor="middle" textLength="22.7" lengthAdjust="spacingAndGlyphs">250</text>
<line class="d" x1="483.6" y1="328" x2="483.6" y2="428.5"/>
<line class="d" x1="699.6" y1="328" x2="699.6" y2="420.7"/>
<line class="d" x1="483.6" y1="330.4" x2="699.6" y2="330.4"/>
<polygon class="a" points="483.6,330.4 490.2,328.4 490.2,332.3"/>
<polygon class="a" points="699.6,330.4 693.0,328.4 693.0,332.3"/>
<text class="t" x="589.3" y="325.4" text-anchor="middle" textLength="22.7" lengthAdjust="spacingAndGlyphs">463</text>
<line class="d" x1="483.6" y1="355" x2="528.5" y2="355"/>
<polygon class="a" points="483.6,355.0 490.2,353.1 490.2,356.9"/>
<polygon class="a" points="528.5,355.0 521.9,353.1 521.9,356.9"/>
<text class="t" x="507.8" y="349.2" text-anchor="middle" textLength="15.0" lengthAdjust="spacingAndGlyphs">95</text>
<text class="t" transform="translate(455.0,465) rotate(-90)" text-anchor="middle" textLength="81.2" lengthAdjust="spacingAndGlyphs">3 x M10 x 15</text>
<line class="d" x1="460" y1="465.4" x2="478.5" y2="435.6"/>
<polygon class="a" points="478.5,435.6 476.7,442.2 473.4,440.2"/>
<line class="d" x1="460" y1="465.4" x2="483.4" y2="509.8"/>
<polygon class="a" points="483.4,509.8 478.6,504.9 482.0,503.1"/>
<line class="d" x1="460" y1="465.4" x2="482.8" y2="587.6"/>
<polygon class="a" points="482.8,587.6 479.7,581.5 483.5,580.8"/>
</g>
<g id="v5">
<path class="m" d="M958.6,495.41 A47.4,47.4 0 0 1 1043.9,485.81 V535.39 A47.4,47.4 0 0 1 958.6,525.79 Z"/>
<circle class="o" cx="1003.5" cy="510.8" r="36.9"/>
<circle class="n" cx="1003.5" cy="510.8" r="32.9"/>
<path class="k2" d="M984.23,486.14 A31.3,31.3 0 0 1 1022.34,485.80"/>
<path class="k2" d="M1024.85,487.91 A31.3,31.3 0 0 1 1024.44,534.06"/>
<path class="k2" d="M1022.34,535.80 A31.3,31.3 0 0 1 984.66,535.80"/>
<path class="k2" d="M975.86,525.49 A31.3,31.3 0 0 1 978.50,491.96"/>
<ellipse class="ow" cx="1003.6" cy="511" rx="16.2" ry="21.2" style="stroke-width:1.1"/>
<ellipse class="o" cx="1003.5" cy="510.7" rx="15.2" ry="17.8" style="stroke-width:1.05"/>
<path class="m" d="M958.6,508.3 H971 V513.4 H958.6"/>
<line class="m" x1="965.9" y1="508.3" x2="965.9" y2="513.4"/>
<circle class="ow" cx="978.5" cy="535.2" r="4.9"/>
<line class="o" x1="976.8" y1="535.2" x2="980" y2="535.2"/>
<line class="o" x1="978.4" y1="533.6" x2="978.4" y2="536.8"/>
<line class="d" x1="1003.4" y1="459" x2="1003.4" y2="563.5"/>
<line class="d" x1="975" y1="511.1" x2="1053.5" y2="511.1"/>
<line class="d" x1="1003.4" y1="463.3" x2="1143" y2="463.3"/>
<line class="d" x1="1003.4" y1="558.2" x2="1143" y2="558.2"/>
<line class="d" x1="1141" y1="463.3" x2="1141" y2="558.2"/>
<polygon class="a" points="1141.0,463.3 1139.0,469.9 1143.0,469.9"/>
<polygon class="a" points="1141.0,558.2 1139.0,551.6 1143.0,551.6"/>
<line class="d" x1="1003.4" y1="474.5" x2="1120" y2="474.5"/>
<line class="d" x1="1003.4" y1="547.3" x2="1120" y2="547.3"/>
<line class="d" x1="1118.5" y1="474.5" x2="1118.5" y2="547.3"/>
<polygon class="a" points="1118.5,474.5 1116.5,481.1 1120.5,481.1"/>
<polygon class="a" points="1118.5,547.3 1116.5,540.7 1120.5,540.7"/>
<line class="d" x1="1003.4" y1="479.4" x2="1096" y2="479.4"/>
<line class="d" x1="1003.4" y1="542.4" x2="1096" y2="542.4"/>
<line class="d" x1="1094.4" y1="479.4" x2="1094.4" y2="542.4"/>
<polygon class="a" points="1094.4,479.4 1092.5,486.0 1096.4,486.0"/>
<polygon class="a" points="1094.4,542.4 1092.5,535.8 1096.4,535.8"/>
<line class="d" x1="1003.4" y1="490.1" x2="1072" y2="490.1"/>
<line class="d" x1="1003.4" y1="531.8" x2="1072" y2="531.8"/>
<line class="d" x1="1070.9" y1="490.1" x2="1070.9" y2="531.8"/>
<polygon class="a" points="1070.9,490.1 1069.0,496.7 1072.9,496.7"/>
<polygon class="a" points="1070.9,531.8 1069.0,525.2 1072.9,525.2"/>
<text class="t" transform="translate(1066.2,510.5) rotate(-90)" text-anchor="middle" textLength="40.0" lengthAdjust="spacingAndGlyphs">DN 80</text>
<text class="t" transform="translate(1090.6,510.7) rotate(-90)" text-anchor="middle" textLength="36.6" lengthAdjust="spacingAndGlyphs">&#216; 132</text>
<text class="t" transform="translate(1113.6,510.7) rotate(-90)" text-anchor="middle" textLength="36.6" lengthAdjust="spacingAndGlyphs">&#216; 160</text>
<text class="t" transform="translate(1135.7,510.7) rotate(-90)" text-anchor="middle" textLength="36.6" lengthAdjust="spacingAndGlyphs">&#216; 200</text>
<line class="d" x1="940" y1="530" x2="975" y2="530"/>
<line class="d" x1="940" y1="540.4" x2="976" y2="540.4"/>
<line class="d" x1="944" y1="505.5" x2="944" y2="530"/>
<polygon class="a" points="944.0,530.0 942.0,523.4 946.0,523.4"/>
<line class="d" x1="944" y1="540.4" x2="944" y2="597"/>
<polygon class="a" points="944.0,540.4 942.0,547.0 946.0,547.0"/>
<text class="t" transform="translate(937.8,574.3) rotate(-90)" text-anchor="middle" textLength="31.0" lengthAdjust="spacingAndGlyphs">8x19</text>
</g>
</svg>
</body></html>
